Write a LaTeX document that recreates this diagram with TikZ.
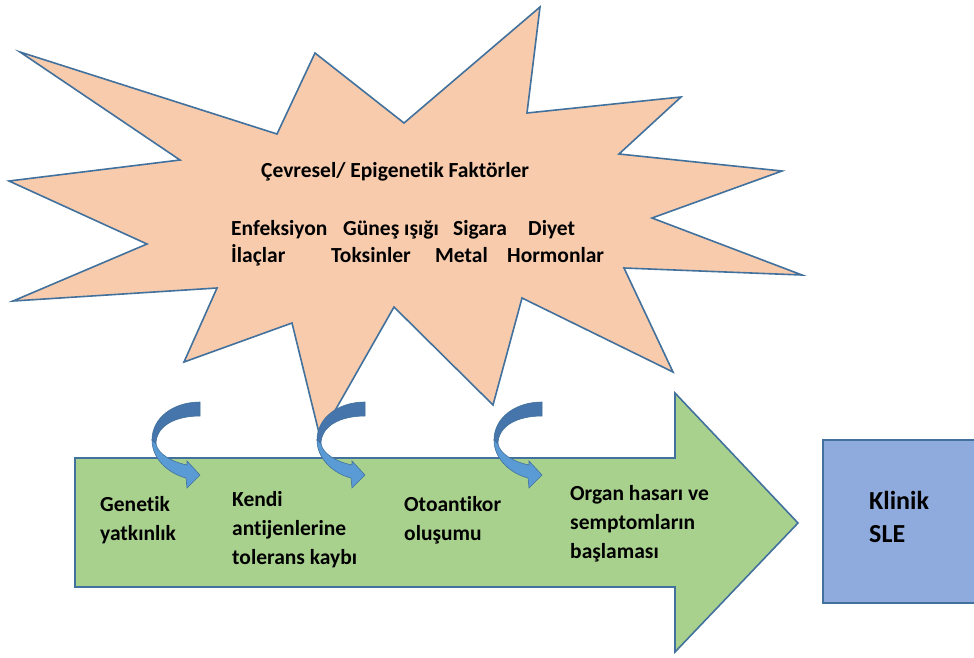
\documentclass[tikz,border=0pt]{standalone}
\usepackage{fontspec}
\setmainfont{Carlito}[Ligatures=NoCommon]
\definecolor{peach}{HTML}{F8CBAD}
\definecolor{edgeblue}{HTML}{41719C}
\definecolor{boxgreen}{HTML}{A9D18E}
\definecolor{boxblue}{HTML}{8FAADC}
\definecolor{arrdark}{HTML}{4575AA}
\definecolor{arrlight}{HTML}{5B9BD5}
\tikzset{
  shapeedge/.style={draw=edgeblue, line width=1.6pt, line join=miter},
  lbl/.style={font=\bfseries\fontsize{21.5}{29}\selectfont, align=left, inner sep=0pt, anchor=base west, text=black},
  biglbl/.style={lbl, font=\bfseries\fontsize{26}{33}\selectfont},
  curvarrow/.pic={
    \path[fill=arrdark, draw=edgeblue, line width=0.6pt]
      (0,0) .. controls (-27,0) and (-48,16) .. (-48,38) -- (-44,42)
      .. controls (-44,24) and (-25,14) .. (0,14) -- cycle;
    \path[fill=arrlight, draw=edgeblue, line width=0.6pt]
      (-48,38) .. controls (-48,58) and (-30,72) .. (-14,76) -- (-13,86) -- (0,73) -- (-13,59) -- (-13,63)
      .. controls (-28,60) and (-42,52) .. (-44,42) -- cycle;
  }
}
\begin{document}
\begin{tikzpicture}[x=1pt,y=-1pt]
\useasboundingbox (0,0) rectangle (974,657);
\clip (0,0) rectangle (974,657);
% starburst
\path[shapeedge, fill=peach]
  (20,52) -- (277,134) -- (315,53) -- (404,123) -- (540,7) -- (527,113)
  -- (681,97) -- (619,154) -- (782,171) -- (652,218) -- (802,275) -- (624,268)
  -- (673,372) -- (522,298) -- (493,405) -- (394,307) -- (320,437) -- (292,323)
  -- (184,362) -- (217,288) -- (13,301) -- (147,244) -- (9,181) -- (180,160) -- cycle;
\node[lbl] (title) at (261,177) {Çevresel/ Epigenetik Faktörler};
\node[lbl] (enf) at (231,235) {Enfeksiyon};
\node[lbl] (gun) at (343,235) {Güneş ışığı};
\node[lbl] (sig) at (453,235) {Sigara};
\node[lbl] (diy) at (528,235) {Diyet};
\node[lbl] (ila) at (231,262) {İlaçlar};
\node[lbl] (tok) at (331,262) {Toksinler};
\node[lbl] (met) at (435,262) {Metal};
\node[lbl] (hor) at (507,262) {Hormonlar};
% green arrow
\path[shapeedge, fill=boxgreen]
  (75,458) -- (675,458) -- (675,393) -- (798,523) -- (675,652) -- (675,587) -- (75,587) -- cycle;
% blue box
\path[shapeedge, fill=boxblue] (823,440) rectangle (1000,603);
% curved arrows
\pic at (200,402) {curvarrow};
\pic at (365,402) {curvarrow};
\pic at (542,402) {curvarrow};
% texts (base anchor = baseline of last line)
\node[lbl] (gen) at (100,540) {Genetik\\yatkınlık};
\node[lbl] (ken) at (232,564) {Kendi\\antijenlerine\\tolerans kaybı};
\node[lbl] (oto) at (404,540) {Otoantikor\\oluşumu};
\node[lbl] (org) at (570,558) {Organ hasarı ve\\semptomların\\başlaması};
\node[biglbl] (kli) at (869,542) {Klinik\\SLE};
\end{tikzpicture}
\end{document}
